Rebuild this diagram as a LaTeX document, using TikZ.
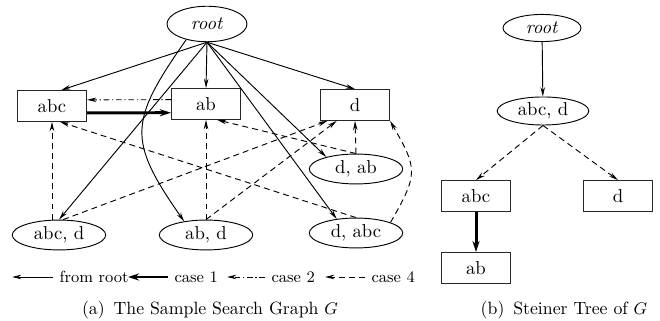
\documentclass[tikz,border=0pt]{standalone}
\usetikzlibrary{shapes,arrows.meta}
\tikzstyle{bx}=[rectangle,draw=black!85,line width=0.5pt,inner sep=0pt,
  minimum width=37pt,minimum height=16.5pt]
\tikzstyle{ov}=[ellipse,draw=black,line width=0.5pt,inner sep=0pt,
  minimum width=50pt,minimum height=16pt]
\tikzstyle{lg}=[anchor=west,font=\fontsize{8.6}{10}\selectfont]
\tikzstyle{captext}=[font=\fontsize{9.5}{11}\selectfont]
\tikzstyle{rt}=[line width=0.5pt,-{Stealth[length=5pt,width=2.4pt]}]
\tikzstyle{cone}=[line width=1.6pt,-{Stealth[length=6pt,width=3.8pt]}]
\tikzstyle{ctwo}=[line width=0.5pt,dash pattern=on 3pt off 1.5pt on 0.6pt off 1.5pt,
  -{Stealth[length=5pt,width=2.4pt]}]
\tikzstyle{cfour}=[line width=0.5pt,dash pattern=on 3.2pt off 2.2pt,
  -{Stealth[length=5pt,width=2.4pt]}]
\begin{document}
\begin{tikzpicture}[x=0.535pt,y=-0.535pt]
    \useasboundingbox (0,0) rectangle (660,321);
    \node [ov,minimum width=42.8pt,minimum height=19pt] (root) at (207,24) {\textit{root}};
    \node [bx] (abc) at (52,106) {abc};
    \node [bx] (ab) at (206,104) {ab};
    \node [bx] (d) at (355,105) {d};
    \node [ov] (dab) at (356,169) {d, ab};
    \node [ov] (abcd) at (59,235) {abc, d};
    \node [ov] (abd) at (206,235) {ab, d};
    \node [ov] (dabc) at (356,233) {d, abc};
    \draw [rt] (root.south) to (abc.60);
    \draw [rt] (root.south) to (ab.north);
    \draw [rt] (root.south) to (d.north);
    \draw [rt] (root.south) to (abcd.north);
    \draw [rt] (root.217) to[out=-125,in=125,looseness=1.4] (abd.148);
    \draw [rt] (root.south) to (dab.158);
    \draw [rt] (root.south) to (dabc.144);
    \draw [cone] (abc.-11) to (ab.-166);
    \draw [ctwo] (ab.173) to (abc.10);
    \draw [cfour] (abcd.north -| abc.south) to (abc.south);
    \draw [cfour] (dabc.north) to (abc.-63);
    \draw [cfour] (dab.north) to (ab.-55);
    \draw [cfour] (dab.north) to (d.south);
    \draw [cfour] (abd.north) to (ab.south);
    \draw [cfour] (abcd.75) to (d.-150);
    \draw [cfour] (abd.north) to (d.-139);
    \draw [cfour] (dabc.17) to[out=60,in=-60,looseness=1.4] (d.south east);
    \node [lg] (lgroot) at (53,277) {from root};
    \node [lg] (lgone) at (168,277) {case 1};
    \node [lg] (lgtwo) at (265,277) {case 2};
    \node [lg] (lgfour) at (365,277) {case 4};
    \coordinate (lgroota) at (12,277);
    \coordinate (lgonea) at (128,277);
    \coordinate (lgtwoa) at (227,277);
    \coordinate (lgfoura) at (325,277);
    \draw [rt] (lgroot) to (lgroota);
    \draw [cone] (lgone) to (lgonea);
    \draw [ctwo] (lgtwo) to (lgtwoa);
    \draw [cfour] (lgfour) to (lgfoura);
    \node [captext] (capa) at (210,310) {(a)\hspace{0.5em}The Sample Search Graph $G$};
    \node [ov,minimum width=41.7pt,minimum height=14.5pt] (root2) at (542,28) {\textit{root}};
    \node [ov,minimum width=49pt,minimum height=15pt] (abcd2) at (543,111) {abc, d};
    \node [bx] (abc2) at (476,196) {abc};
    \node [bx] (d2) at (618,196) {d};
    \node [bx] (ab2) at (476,268) {ab};
    \draw [rt] (root2) to (abcd2);
    \draw [cfour] (abcd2.south) to (abc2.north);
    \draw [cfour] (abcd2.south) to (d2.north);
    \draw [cone] (abc2) to (ab2);
    \node [captext] (capb) at (564,310) {(b)\hspace{0.5em}Steiner Tree of $G$};
  \end{tikzpicture}
\end{document}
